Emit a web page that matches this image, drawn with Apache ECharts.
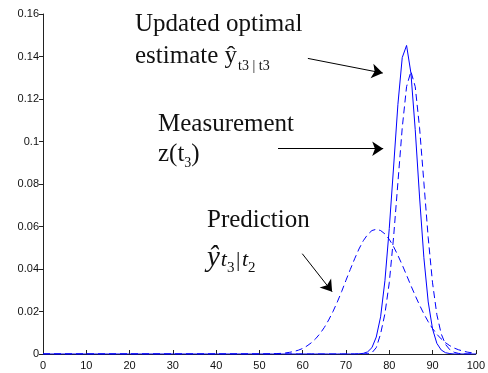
<!DOCTYPE html>
<html>
<head>
<meta charset="utf-8">
<script src="https://cdn.jsdelivr.net/npm/echarts@6/dist/echarts.min.js"></script>
<style>
html,body{margin:0;padding:0;background:#fff;}
#chart{width:488px;height:373px;}
</style>
</head>
<body>
<div id="chart"></div>
<script>
// x sample positions
const xValues = [0, 50, 51, 52, 53, 54, 55, 56, 57, 58, 59, 60, 61, 62, 63, 64, 65, 66, 67, 68, 69, 70,
  71, 72, 73, 74, 75, 76, 77, 78, 79, 80, 81, 82, 83, 84, 85, 86, 87, 88, 89, 90,
  91, 92, 93, 94, 95, 96, 97, 98, 99, 100];
// Prediction (dashed, broad)
const prediction = [0, 0, 0, 0.00003, 0.0001, 0.0002, 0.0003, 0.0005, 0.0008, 0.0012, 0.0018, 0.0026,
  0.0038, 0.0053, 0.0072, 0.0096, 0.0125, 0.0160, 0.0200, 0.0245, 0.0294, 0.0347,
  0.0398, 0.0448, 0.0494, 0.0533, 0.0562, 0.0581, 0.0587, 0.0581, 0.0565, 0.0540,
  0.0505, 0.0464, 0.0419, 0.0371, 0.0322, 0.0275, 0.0230, 0.0189, 0.0152, 0.0120,
  0.0093, 0.0071, 0.0053, 0.0039, 0.0028, 0.0020, 0.0014, 0.0009, 0.0006, 0.0004];
// Measurement (dashed, narrow)
const measurement = [0, 0, 0, 0, 0, 0, 0, 0, 0, 0, 0, 0,
  0, 0, 0, 0, 0, 0, 0, 0, 0, 0,
  0, 0, 0, 0, 0.0002, 0.0006, 0.0030, 0.0095, 0.0190, 0.0335,
  0.0550, 0.0807, 0.1065, 0.1258, 0.1330, 0.1258, 0.1065, 0.0807, 0.0547, 0.0335,
  0.0185, 0.0095, 0.0045, 0.0020, 0.0008, 0.0003, 0.0001, 0, 0, 0];
// Updated optimal estimate (solid)
const updated = [0, 0, 0, 0, 0, 0, 0, 0, 0, 0, 0, 0,
  0, 0, 0, 0, 0, 0, 0, 0, 0, 0,
  0, 0, 0.0001, 0.0003, 0.0010, 0.0030, 0.0080, 0.0175, 0.0345, 0.0590,
  0.0880, 0.1175, 0.1395, 0.1452, 0.1323, 0.1056, 0.0739, 0.0453, 0.0245, 0.0118,
  0.0050, 0.0019, 0.0006, 0.0002, 0, 0, 0, 0, 0, 0];

// arrow annotations: [fromX, fromY, toX, toY] in data units
const arrowUpdated = [61.2, 0.1391, 78.5, 0.1322];
const arrowMeasurement = [54.3, 0.0966, 78.6, 0.0966];
const arrowPrediction = [59.9, 0.0472, 66.8, 0.0293];

const pairs = (ys) => xValues.map((x, i) => [x, ys[i]]);

const chart = echarts.init(document.getElementById('chart'), null, {renderer: 'canvas'});

const mctx = document.createElement('canvas').getContext('2d');
function measure(text, font) { mctx.font = font; return mctx.measureText(text).width; }

// pieces: {t, size, italic, dy}
function row(x, baseline, pieces) {
  const els = [];
  let cx = x;
  pieces.forEach(p => {
    const font = (p.italic ? 'italic ' : '') + p.size + 'px "Liberation Serif", "Times New Roman", serif';
    els.push({
      type: 'text', silent: true,
      style: {
        text: p.t, x: cx, y: baseline + (p.dy || 0) - 0.34 * p.size,
        font: font, fill: '#111', align: 'left', verticalAlign: 'middle'
      }
    });
    cx += measure(p.t, font) + (p.gap || 0);
  });
  return els;
}

const graphics = [].concat(
  row(135, 33, [{t: 'Updated optimal', size: 25}]),
  row(135, 65, [{t: 'estimate ŷ', size: 25, gap: 1}, {t: 't3 | t3', size: 14, dy: 6}]),
  row(158, 133, [{t: 'Measurement', size: 25}]),
  row(158, 163, [{t: 'z(t', size: 25}, {t: '3', size: 14, dy: 5}, {t: ')', size: 25}]),
  row(207, 229, [{t: 'Prediction', size: 25}]),
  row(207, 268, [{t: 'ŷ', size: 29, italic: true, gap: 1}, {t: 't', size: 22, italic: true},
                 {t: '3', size: 15, dy: 5, gap: 1.5}, {t: '|', size: 22, gap: 1.5}, {t: 't', size: 22, italic: true},
                 {t: '2', size: 15, dy: 5}])
);

const arrowLine = (a) => [
  {coord: [a[0], a[1]], symbol: 'none'},
  {coord: [a[2], a[3]], symbol: 'arrow'}
];

const option = {
  animation: false,
  backgroundColor: '#fff',
  grid: {left: 43, right: 11.5, top: 14, bottom: 19, containLabel: false},
  xAxis: {
    type: 'value', min: 0, max: 100, interval: 10,
    axisLine: {show: true, lineStyle: {color: '#222', width: 1}},
    axisTick: {show: true, inside: true, length: 4, lineStyle: {color: '#222'}},
    axisLabel: {color: '#111', fontSize: 11, fontFamily: '"Liberation Sans", Arial, sans-serif', margin: 6},
    splitLine: {show: false}
  },
  yAxis: {
    type: 'value', min: 0, max: 0.16, interval: 0.02,
    axisLine: {show: true, lineStyle: {color: '#222', width: 1}},
    axisTick: {show: true, inside: false, length: 4, lineStyle: {color: '#222'}},
    axisLabel: {color: '#111', fontSize: 11, fontFamily: '"Liberation Sans", Arial, sans-serif', margin: 4},
    splitLine: {show: false}
  },
  series: [
    {
      name: 'Prediction', type: 'line', data: pairs(prediction), showSymbol: false, symbol: 'none',
      lineStyle: {color: '#0000ff', width: 1, type: [7, 4]}, z: 2
    },
    {
      name: 'Measurement', type: 'line', data: pairs(measurement), showSymbol: false, symbol: 'none',
      lineStyle: {color: '#0000ff', width: 1, type: [7, 4]}, z: 2
    },
    {
      name: 'Updated', type: 'line', data: pairs(updated), showSymbol: false, symbol: 'none',
      lineStyle: {color: '#0000ff', width: 1, type: 'solid'}, z: 3,
      markLine: {
        silent: true, animation: false, symbolSize: 11,
        label: {show: false},
        lineStyle: {color: '#000', width: 1, type: 'solid'},
        emphasis: {disabled: true},
        data: [arrowLine(arrowUpdated), arrowLine(arrowMeasurement), arrowLine(arrowPrediction)]
      }
    }
  ],
  graphic: graphics
};
chart.setOption(option);
</script>
</body>
</html>
